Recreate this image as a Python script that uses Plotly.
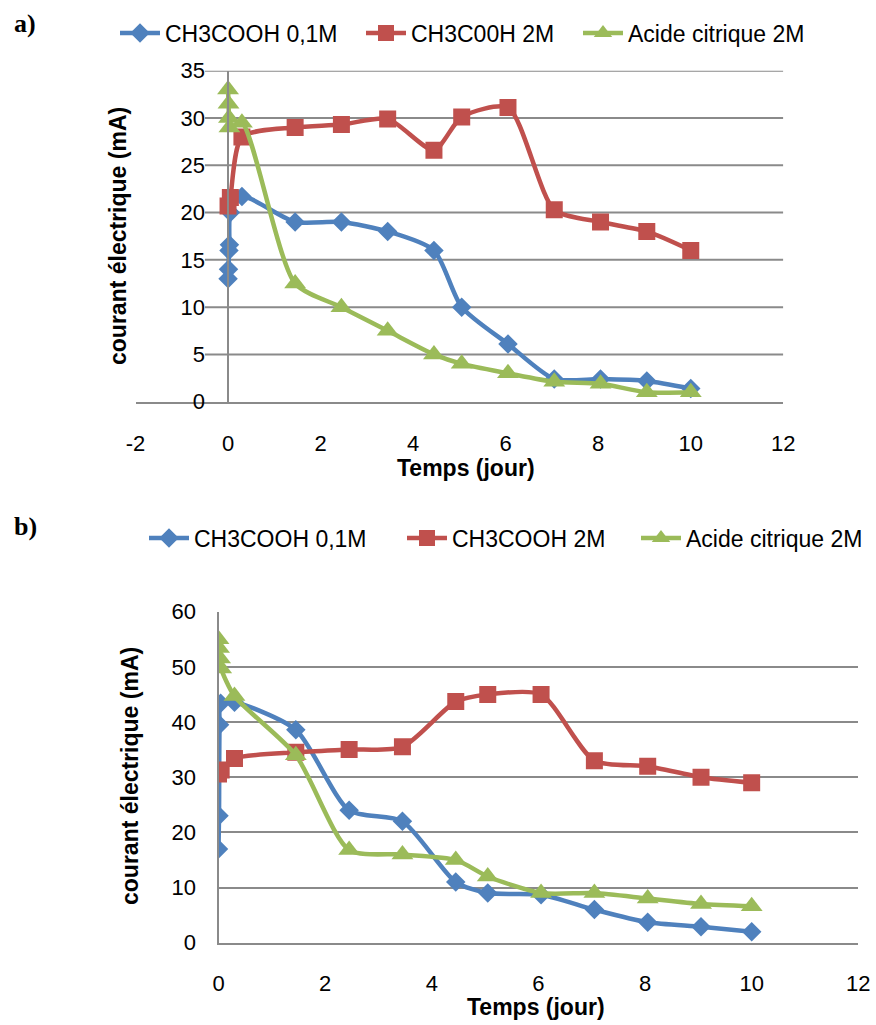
import plotly.graph_objects as go

# ---------------- data ----------------
series_names_a = ["CH3COOH 0,1M", "CH3C00H 2M", "Acide citrique 2M"]
series_names_b = ["CH3COOH 0,1M", "CH3COOH 2M", "Acide citrique 2M"]

a_blue_x = [0, 0.01, 0.02, 0.03, 0.05, 0.3, 1.45, 2.45, 3.45, 4.45, 5.05, 6.05, 7.05, 8.05, 9.05, 10]
a_blue_y = [13, 14, 16, 16.6, 20, 21.7, 19, 19, 18, 16, 10, 6.1, 2.4, 2.4, 2.2, 1.4]
a_red_x = [0, 0.05, 0.3, 1.45, 2.45, 3.45, 4.45, 5.05, 6.05, 7.05, 8.05, 9.05, 10]
a_red_y = [20.7, 21.6, 28, 29, 29.3, 29.9, 26.6, 30.1, 31.1, 20.3, 19, 18, 16]
a_green_x = [0, 0.01, 0.02, 0.03, 0.3, 1.45, 2.45, 3.45, 4.45, 5.05, 6.05, 7.05, 8.05, 9.05, 10]
a_green_y = [33, 31.5, 30, 29, 29.5, 12.5, 10, 7.5, 5, 4, 3, 2.1, 1.9, 1, 1]

b_blue_x = [0, 0.01, 0.02, 0.04, 0.3, 1.45, 2.45, 3.45, 4.45, 5.05, 6.05, 7.05, 8.05, 9.05, 10]
b_blue_y = [17, 23, 39.5, 43.4, 43.6, 38.6, 24, 22, 11, 9, 8.7, 6, 3.7, 2.9, 2]
b_red_x = [0, 0.05, 0.3, 1.45, 2.45, 3.45, 4.45, 5.05, 6.05, 7.05, 8.05, 9.05, 10]
b_red_y = [30.6, 31.3, 33.4, 34.5, 35, 35.5, 43.7, 45, 45, 33, 32, 30, 29]
b_green_x = [0, 0.01, 0.03, 0.05, 0.3, 1.45, 2.45, 3.45, 4.45, 5.05, 6.05, 7.05, 8.05, 9.05, 10]
b_green_y = [55, 53.4, 51.5, 49.7, 44.7, 34, 16.8, 16, 15, 12, 9, 9, 8, 7, 6.6]

a_yticks = [0, 5, 10, 15, 20, 25, 30, 35]
a_xticks = [-2, 0, 2, 4, 6, 8, 10, 12]
a_xtick_labels = ["-2", "0", "2", "4", "6", "8", "10", "12"]
b_yticks = [0, 10, 20, 30, 40, 50, 60]
b_xticks = [0, 2, 4, 6, 8, 10, 12]

x_title = "Temps (jour)"
y_title = "courant électrique (mA)"

# ---------------- style ----------------
W, H = 876, 1025
FONT = "Liberation Sans, Arial, sans-serif"
BLUE, RED, GREEN = "#4F81BD", "#C0504D", "#9BBB59"
GRID = "#8a8a8a"
LW = 4.5
SMOOTH = 0.7

def px_x(p):
    return p / W

def px_y(p):
    return 1 - p / H

styles = [
    dict(color=BLUE, symbol="diamond", size=15),
    dict(color=RED, symbol="square", size=17),
    dict(color=GREEN, symbol="triangle-up", size=19),
]
legend_widths_a = [191, 162, 190]
legend_widths_b = [203, 179, 180]

fig = go.Figure()

data_a = [(a_blue_x, a_blue_y), (a_red_x, a_red_y), (a_green_x, a_green_y)]
data_b = [(b_blue_x, b_blue_y), (b_red_x, b_red_y), (b_green_x, b_green_y)]

for i, (xs, ys) in enumerate(data_a):
    st = styles[i]
    fig.add_trace(go.Scatter(
        x=xs, y=ys, name=series_names_a[i], mode="lines+markers",
        line=dict(color=st["color"], width=LW, shape="spline", smoothing=SMOOTH),
        marker=dict(color=st["color"], symbol=st["symbol"], size=st["size"]),
        xaxis="x", yaxis="y", legend="legend", legendwidth=legend_widths_a[i],
    ))

for i, (xs, ys) in enumerate(data_b):
    st = styles[i]
    fig.add_trace(go.Scatter(
        x=xs, y=ys, name=series_names_b[i], mode="lines+markers",
        line=dict(color=st["color"], width=LW, shape="spline", smoothing=SMOOTH),
        marker=dict(color=st["color"], symbol=st["symbol"], size=st["size"]),
        xaxis="x2", yaxis="y2", legend="legend2", legendwidth=legend_widths_b[i],
    ))

tickfont = dict(family=FONT, size=22, color="#000")

# plot areas (pixels)
a_left, a_right, a_top, a_bottom = 135.5, 783.3, 70.7, 401.7
b_left, b_right, b_top, b_bottom = 218.5, 858.3, 611.7, 942.7

fig.update_layout(
    width=W, height=H,
    margin=dict(l=0, r=0, t=0, b=0, autoexpand=False),
    paper_bgcolor="white", plot_bgcolor="white",
    showlegend=True,
    xaxis=dict(
        domain=[px_x(a_left), px_x(a_right)], anchor="y",
        range=[-2, 12], tickvals=a_xticks, ticktext=a_xtick_labels, showgrid=False,
        showline=True, linecolor=GRID, linewidth=2,
        zeroline=False, ticks="", tickfont=tickfont, ticklabelstandoff=21,
    ),
    yaxis=dict(
        domain=[px_y(a_bottom), px_y(a_top)], anchor="free",
        position=px_x(a_left + (a_right - a_left) * 2 / 14),
        range=[0, 35], tickvals=a_yticks, showgrid=False,
        showline=True, linecolor=GRID, linewidth=1.5,
        zeroline=False, ticks="", tickfont=tickfont, ticklabelstandoff=18,
    ),
    xaxis2=dict(
        domain=[px_x(b_left), px_x(b_right)], anchor="y2",
        range=[0, 12], tickvals=b_xticks, showgrid=False,
        showline=True, linecolor=GRID, linewidth=2,
        zeroline=False, ticks="", tickfont=tickfont, ticklabelstandoff=20,
    ),
    yaxis2=dict(
        domain=[px_y(b_bottom), px_y(b_top)], anchor="x2",
        range=[0, 60], tickvals=b_yticks, showgrid=True,
        gridcolor=GRID, gridwidth=2,
        showline=True, linecolor=GRID, linewidth=2,
        zeroline=False, ticks="", tickfont=tickfont, ticklabelstandoff=16,
    ),
    legend=dict(
        orientation="h", x=px_x(115), xanchor="left", y=px_y(33), yanchor="middle",
        font=dict(family=FONT, size=23, color="#000"), itemwidth=40,
        bgcolor="rgba(0,0,0,0)", traceorder="normal",
    ),
    legend2=dict(
        orientation="h", x=px_x(144), xanchor="left", y=px_y(538), yanchor="middle",
        font=dict(family=FONT, size=23, color="#000"), itemwidth=40,
        bgcolor="rgba(0,0,0,0)", traceorder="normal",
    ),
)

# horizontal gridlines of chart a (start just right of the tick labels)
for v in a_yticks[1:]:
    fig.add_shape(type="line", xref="x", yref="y", x0=-0.5, x1=12, y0=v, y1=v,
                  line=dict(color=GRID, width=2), layer="below")

# axis titles and panel labels
title_font = dict(family=FONT, size=23, color="#000")
ann = dict(xref="paper", yref="paper", showarrow=False, xanchor="center", yanchor="middle")
fig.add_annotation(text="<b>%s</b>" % x_title, x=px_x(466), y=px_y(468), font=title_font, **ann)
fig.add_annotation(text="<b>%s</b>" % x_title, x=px_x(536), y=px_y(1007), font=title_font, **ann)
fig.add_annotation(text="<b>%s</b>" % y_title, x=px_x(118), y=px_y(236), font=title_font,
                   textangle=-90, **ann)
fig.add_annotation(text="<b>%s</b>" % y_title, x=px_x(130), y=px_y(776), font=title_font,
                   textangle=-90, **ann)

panel_font = dict(family="Liberation Serif, Times New Roman, serif", size=26, color="#000")
fig.add_annotation(text="<b>a)</b>", x=px_x(25), y=px_y(23), font=panel_font, **ann)
fig.add_annotation(text="<b>b)</b>", x=px_x(25), y=px_y(526), font=panel_font, **ann)

fig.write_html("out.html", config={"displayModeBar": False},
               post_script="document.body.style.margin='0';")
